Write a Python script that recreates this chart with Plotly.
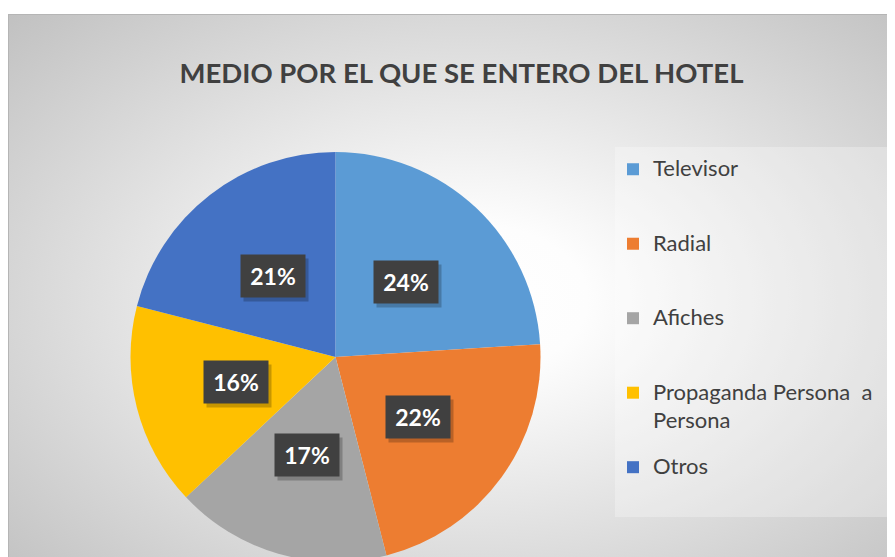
import base64
import math
import plotly.graph_objects as go

# ---- data ----
categories = ["Televisor", "Radial", "Afiches", "Propaganda Persona  a Persona", "Otros"]
legend_lines = [["Televisor"], ["Radial"], ["Afiches"], ["Propaganda Persona  a", "Persona"], ["Otros"]]
values = [24, 22, 17, 16, 21]
colors = ["#5B9BD5", "#ED7D31", "#A5A5A5", "#FFC000", "#4472C4"]
title_text = "MEDIO POR EL QUE SE ENTERO DEL HOTEL"

# ---- layout constants (figure pixel coordinates) ----
W, H = 895, 557
CX, CY, R = 327.5, 349.0, 205.0  # pie centre / radius in pixels
FONT = "Lato, 'Open Sans', sans-serif"
TXT = "#404040"

# background: radial gradient chart area (Excel-like)
svg = f'''<svg xmlns="http://www.w3.org/2000/svg" width="{W}" height="{H}" viewBox="0 0 {W} {H}">
<defs><radialGradient id="g" cx="0.52" cy="0.5" r="0.74">
<stop offset="0" stop-color="#ffffff"/><stop offset="0.18" stop-color="#fdfdfd"/>
<stop offset="1" stop-color="#bfbfbf"/></radialGradient></defs>
<rect x="0" y="0" width="{W}" height="{H}" fill="#ffffff"/>
<rect x="0.5" y="6.5" width="886" height="570" fill="url(#g)" stroke="#b5b5b5" stroke-width="1"/>
<rect x="607" y="139" width="273" height="370" fill="#ffffff" fill-opacity="0.28"/>
</svg>'''
bg_src = "data:image/svg+xml;base64," + base64.b64encode(svg.encode()).decode()

# legend labels: pad with empty lines so the marker sits on the first text line
leg_labels = []
for lines in legend_lines:
    parts = []
    for i, l in enumerate(lines):
        style = "font-size:22px" + (";baseline-shift:-4px" if i > 0 else "")
        parts.append(f"<span style='{style}'>{l}</span>")
    body = "<br>".join(parts)
    if len(lines) == 1:
        leg_labels.append("<br>" + body + "<br>")
    else:
        leg_labels.append("<br>" + body)

fig = go.Figure(go.Pie(
    labels=leg_labels,
    values=values,
    marker=dict(colors=colors, line=dict(width=0)),
    sort=False,
    direction="clockwise",
    rotation=0,
    textinfo="none",
    hoverinfo="skip",
    domain=dict(x=[(CX - R) / W, (CX + R) / W],
                y=[(H - CY - R) / H, (H - CY + R) / H]),
))

# data labels in dark boxes, positioned from the slice mid-angles
annotations = []
total = sum(values)
cum = 0.0
LR = 0.5 * R
for v in values:
    mid = (cum + v / 2.0) / total * 2 * math.pi
    cum += v
    px = CX + LR * math.sin(mid)
    py = CY - LR * math.cos(mid)
    pct = f"{round(100 * v / total)}%"
    base = dict(xref="paper", yref="paper", x=px / W, y=1 - py / H,
                xanchor="center", yanchor="middle", showarrow=False,
                width=64, height=42, borderpad=0)
    annotations.append(dict(base, text="", bgcolor="rgba(0,0,0,0.22)", xshift=3, yshift=-4))
    annotations.append(dict(base, text=f"<b>{pct}</b>", bgcolor="#404040",
                            font=dict(family=FONT, size=23, color="#ffffff")))

fig.update_layout(
    width=W, height=H,
    margin=dict(l=0, r=0, t=0, b=0),
    paper_bgcolor="#ffffff",
    images=[dict(source=bg_src, xref="paper", yref="paper", x=0, y=1, sizex=1, sizey=1,
                 xanchor="left", yanchor="top", sizing="stretch", layer="below")],
    title=dict(text=f"<b>{title_text}</b>", x=453.5 / W, y=1 - 65 / H,
               xanchor="center", yanchor="middle",
               font=dict(family=FONT, size=27.5, color=TXT)),
    legend=dict(x=605 / W, y=1 - 119 / H, xanchor="left", yanchor="top",
                bgcolor="rgba(0,0,0,0)", borderwidth=0,
                font=dict(family=FONT, size=18.33, color=TXT)),
    annotations=annotations,
    showlegend=True,
)

fig.write_html("out.html")
